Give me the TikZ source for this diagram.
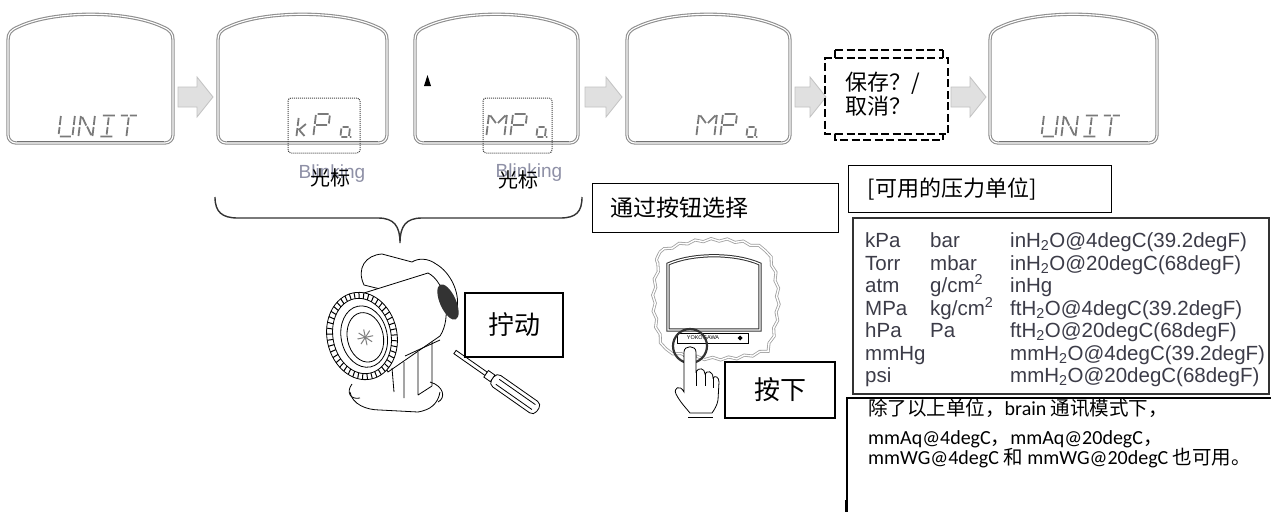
\documentclass[tikz,border=0pt]{standalone}
\usepackage{fontspec}
\setmainfont{Liberation Sans}
\newfontfamily\cjk{Noto Sans CJK SC}
\newfontfamily\carl{Carlito}
\usetikzlibrary{decorations.pathmorphing}

\definecolor{framegray}{HTML}{8E8E8E}
\definecolor{arrowfill}{HTML}{E0E0E0}
\definecolor{arrowline}{HTML}{C2C2C2}
\definecolor{segcol}{HTML}{7A7A7A}
\definecolor{tabtext}{HTML}{3C3C48}
\definecolor{blinkc}{HTML}{8E90A6}
\definecolor{inkgray}{HTML}{333333}

\newcommand\setfs[1]{\fontsize{#1}{#1}\selectfont}

\tikzset{
  lcdline/.style={draw=framegray, line width=1.1pt, double=white, double distance=1.1pt},
  seg/.style={draw=segcol, line width=1.8pt},
  blockarrow/.style={fill=arrowfill, draw=arrowline, line width=0.8pt},
  cursorbox/.style={draw=gray!55!black, densely dotted, line width=1pt, rounded corners=3pt},
  savebox/.style={draw=black, line width=2pt, dash pattern=on 8pt off 3.5pt},
  labelbox/.style={draw=black, line width=1.2pt},
  cjkl/.style={font=\cjk\fontsize{22}{24}\selectfont, inner sep=0pt},
  blink/.style={font=\setfs{19}, text=blinkc, inner sep=0pt},
  cursorlbl/.style={font=\cjk\setfs{20}, inner sep=0pt},
  bracestyle/.style={draw=inkgray, line width=1.4pt},
  tab/.style={font=\setfs{20.5}, text=tabtext, inner sep=0pt, anchor=base west},
  note/.style={font=\carl\setfs{20}, inner sep=0pt, anchor=base west},
  dev/.style={draw=black, line width=0.8pt},
}
% CJK runs inside the note
\newcommand\nc[1]{{\cjk\setfs{19.5}#1}}

% display frame between x=#1 and x=#2
\newcommand\lcdframe[2]{%
  \draw[lcdline] (#1,40) [rounded corners=8pt] -- (#1,143) -- (#2,143) -- (#2,70)
    [sharp corners] -- (#2,40)
    .. controls (#2,33) and (#2-3,30) .. (#2-10,27)
    .. controls (#2-45,10) and (#1+45,10) .. (#1+10,27)
    .. controls (#1+3,30) and (#1,33) .. (#1,40) -- cycle;
  \draw[draw=framegray!80!black, line width=1.6pt] (#1+9,141.6) -- (#2-9,141.6);}

% grey block arrow from x=#1 to x=#2
\newcommand\blockarrow[2]{%
  \draw[blockarrow] (#1,87) -- (#2-16,87) -- (#2-16,77) -- (#2,97)
    -- (#2-16,117) -- (#2-16,107) -- (#1,107) -- cycle;}

% segmented display letters, top-left corner at (#1,#2)
\newcommand\segU[2]{\draw[seg,shift={(#1,#2)},xslant=0.12]
  (0,1)--(0,10) (0,12)--(0,19) (1.5,21.5)--(12.5,21.5) (14,1)--(14,10) (14,12)--(14,20);}
\newcommand\segN[2]{\draw[seg,shift={(#1,#2)},xslant=0.12]
  (0,1)--(0,10) (0,12)--(0,21) (14,1)--(14,10) (14,12)--(14,21)
  (1.5,2)--(6.5,10.5) (7.5,11.5)--(12.5,20);}
\newcommand\segI[2]{\draw[seg,shift={(#1,#2)},xslant=0.12]
  (1,0.5)--(13,0.5) (7,2.5)--(7,10) (7,12)--(7,19.5) (1,21.5)--(13,21.5);}
\newcommand\segT[2]{\draw[seg,shift={(#1,#2)},xslant=0.12]
  (0,0.5)--(7,0.5) (9,0.5)--(16,0.5) (8,2.5)--(8,10) (8,12)--(8,21);}
\newcommand\segP[2]{\draw[seg,shift={(#1,#2)},xslant=0.12]
  (0,1)--(0,10) (0,12)--(0,21) (1.5,0)--(12.5,0) (14,1.5)--(14,9.5) (1.5,11)--(12.5,11);}
\newcommand\segM[2]{\draw[seg,shift={(#1,#2)},xslant=0.12]
  (0,1)--(0,10) (0,12)--(0,21) (18,1)--(18,10) (18,12)--(18,21)
  (1.5,1.5)--(8,9) (16.5,1.5)--(10,9);}
\newcommand\segK[2]{\draw[seg,shift={(#1,#2)},xslant=0.12]
  (0,3)--(0,11) (0,13)--(0,21) (1.5,15)--(8,9) (2.5,15.5)--(8,21);}
\newcommand\segA[2]{\draw[seg,shift={(#1,#2)},xslant=0.12]
  (2,12)--(8,12) (9.5,13.5)--(9.5,21) (1,13.5)--(1,20.5) (2,22)--(8,22) (10.5,22)--(12,22);}

\begin{document}
\begin{tikzpicture}[x=1pt,y=-1pt]
\useasboundingbox (0,0) rectangle (1271,515);
\fill[white] (0,0) rectangle (1271,515);

% ---------- display sequence ----------
\lcdframe{8}{173}
\lcdframe{218}{387}
\lcdframe{415}{578}
\lcdframe{627}{790}
\lcdframe{990}{1157}

\blockarrow{178}{213}
\blockarrow{585}{622}
\blockarrow{795}{826}
\blockarrow{951}{986}

% UNIT
\segU{61}{115}\segN{81}{115}\segI{102}{115}\segT{121}{115}
\segU{1044}{115}\segN{1064}{115}\segI{1085}{115}\segT{1104}{115}
% kPa
\segK{299}{115}\segP{316}{114}\segA{342}{115}
% MPa
\segM{489}{114}\segP{513}{114}\segA{538}{115}
\segM{699}{114}\segP{723}{114}\segA{748}{115}

% cursor marks
\draw[cursorbox] (288,98) rectangle (360,153);
\draw[cursorbox] (483,98) rectangle (552,153);
\fill[black] (424,86) -- (427.5,75) -- (431,86) -- cycle;

\node[blink] (bl1) at (332,174) {Blinking};
\node[cursorlbl] (cur1) at (330,178) {光标};
\node[blink] (bl2) at (529,173) {Blinking};
\node[cursorlbl] (cur2) at (518,180) {光标};

% save / cancel prompt
\draw[savebox] (835,50) -- (943,50);
\draw[savebox] (835,50) -- (835,58) -- (825,58) -- (825,134) -- (835,134) -- (835,140) -- (943,140) -- (943,134) -- (948,134) -- (948,58) -- (943,58) -- (943,50);
\draw[savebox] (835,58) -- (943,58);
\draw[savebox] (835,134) -- (943,134);
\node[cjkl, align=left, anchor=west] (savecancel) at (845,94) {保存？/\\取消？};

% ---------- brace ----------
\draw[bracestyle] (215,197) .. controls (215,212) and (222,218) .. (238,218) -- (378,218)
  .. controls (394,218) and (400,226) .. (400,243)
  .. controls (400,226) and (406,218) .. (422,218) -- (560,218)
  .. controls (576,218) and (582,212) .. (582,197);

% ---------- transmitter with screwdriver ----------
\draw[dev, fill=white] (364,285) .. controls (356,268) and (366,255) .. (382,254) -- (412,262)
  .. controls (418,258) and (428,258) .. (436,264) .. controls (450,272) and (460,292) .. (457,308) -- cycle;
\draw[dev, fill=white] (348,298) -- (428,273) .. controls (446,282) and (452,318) .. (440,336) -- (388,372) -- cycle;
\fill[inkgray, rotate around={24:(448,302)}] (448,302) ellipse [x radius=8, y radius=19];
\draw[dev] (392,368) -- (394,392) (404,362) -- (404,398) (418,352) -- (418,395)
  (432,342) -- (432,386) (418,395) -- (432,386) (405,356) -- (440,340);
\draw[dev] (350,392) .. controls (352,404) and (366,410) .. (380,410) -- (418,412)
  .. controls (430,410) and (438,404) .. (440,392);
\draw[dev] (352,384) .. controls (346,392) and (350,400) .. (360,398);
\draw[dev] (430,382) .. controls (444,386) and (446,398) .. (438,402);
\begin{scope}[shift={(362,336)}, rotate=12]
  \draw[dev, fill=white] (0,0) ellipse [x radius=35, y radius=44];
  \foreach \a in {0,8,...,352} \draw[line width=1pt] (\a:35 and 44) -- (\a:29 and 38);
  \draw[dev] (0,0) ellipse [x radius=29, y radius=38];
  \draw[dev] (2,1) ellipse [x radius=23, y radius=31];
  \draw[dev] (3,2) ellipse [x radius=18, y radius=25];
  \foreach \a in {0,45,90,135} \draw[gray, line width=1pt] (3,2) ++(\a:8) -- ++(\a+180:16);
\end{scope}
\begin{scope}[shift={(455,352)}, rotate=-35]
  \draw[dev, fill=white] (0,-2) rectangle (38,2);
  \draw[dev, fill=white] (38,-4) rectangle (46,4);
  \draw[dev, fill=white, rounded corners=5pt] (46,-7) rectangle (101,7);
  \draw[dev] (52,-3) -- (96,-3) (52,3) -- (96,3);
\end{scope}
\node[labelbox, minimum width=98, minimum height=64, font=\cjk\setfs{26}] (twist) at (514,325) {拧动};

% ---------- local display with push button ----------
\draw[draw=gray!75, line width=0.8pt, double=white, double distance=1.4pt,
  decorate, decoration={snake, amplitude=1.3pt, segment length=16pt}]
  (660,252) .. controls (690,238) and (735,238) .. (764,252)
  .. controls (778,280) and (778,322) .. (764,350)
  .. controls (735,362) and (690,362) .. (660,350)
  .. controls (646,322) and (646,280) .. (660,252) -- cycle;
\draw[draw=inkgray, line width=1pt, double=white, double distance=1.2pt]
  (668,264) -- (668,330) -- (760,330) -- (760,264) .. controls (735,253) and (693,253) .. (668,264) -- cycle;
\draw[line width=0.8pt] (677,333) rectangle (748,343);
\node[font=\setfs{5.5}, inner sep=0pt] (brand) at (703,338) {YOKOGAWA};
\fill (740,335.5) -- (742.5,338) -- (740,340.5) -- (737.5,338) -- cycle;
\draw[line width=2.2pt, inkgray] (690,346) circle (17);
\draw[dev] (684,357) .. controls (684,349) and (696,349) .. (696,357);
\draw[dev, fill=white] (684,392) -- (684,352) .. controls (684,345) and (696,345) .. (696,352) -- (696,372)
  .. controls (698,367) and (705,368) .. (705,374) .. controls (707,370) and (713,371) .. (713,378)
  .. controls (715,375) and (719,377) .. (719,382) -- (718,400)
  .. controls (717,406) and (714,410) .. (712,413) -- (690,413)
  .. controls (686,408) and (680,402) .. (676,394) .. controls (673,388) and (680,384) .. (684,392) -- cycle;
\draw[dev] (696,372) -- (696,386) (705,374) -- (705,386) (713,378) -- (713,388) (688,417) -- (713,417);
\node[labelbox, minimum width=110, minimum height=56, font=\cjk\setfs{26}] (press) at (780,390) {按下};
\node[labelbox, anchor=north west, minimum height=49, text width=210, inner xsep=18, align=left,
  font=\cjk\setfs{23}] (select) at (592,183) {通过按钮选择};

% ---------- available units ----------
\node[labelbox, anchor=north west, minimum height=47, text width=225, inner xsep=19, align=left,
  font=\cjk\setfs{22}] (unitshead) at (848,165) {[可用的压力单位]};
\draw[line width=1.3pt, draw=inkgray] (853,218) rectangle (1269,394);

\node[tab] (r1a) at (865,247.5) {kPa};
\node[tab] (r1b) at (930,247.5) {bar};
\node[tab] (r1c) at (1010,247.5) {inH\textsubscript{2}O@4degC(39.2degF)};
\node[tab] (r2a) at (865,270) {Torr};
\node[tab] (r2b) at (930,270) {mbar};
\node[tab] (r2c) at (1010,270) {inH\textsubscript{2}O@20degC(68degF)};
\node[tab] (r3a) at (865,292.5) {atm};
\node[tab] (r3b) at (930,292.5) {g/cm\textsuperscript{2}};
\node[tab] (r3c) at (1010,292.5) {inHg};
\node[tab] (r4a) at (865,315) {MPa};
\node[tab] (r4b) at (930,315) {kg/cm\textsuperscript{2}};
\node[tab] (r4c) at (1010,315) {ftH\textsubscript{2}O@4degC(39.2degF)};
\node[tab] (r5a) at (865,337.5) {hPa};
\node[tab] (r5b) at (930,337.5) {Pa};
\node[tab] (r5c) at (1010,337.5) {ftH\textsubscript{2}O@20degC(68degF)};
\node[tab] (r6a) at (865,360) {mmHg};
\node[tab] (r6c) at (1010,360) {mmH\textsubscript{2}O@4degC(39.2degF)};
\node[tab] (r7a) at (865,382.5) {psi};
\node[tab] (r7c) at (1010,382.5) {mmH\textsubscript{2}O@20degC(68degF)};

% note on extra units
\draw[line width=1.3pt] (847,512) -- (847,398) -- (1271,398);
\draw[line width=2.6pt] (846,500) -- (846,512);
\node[note] (n1) at (868,415) {\nc{除了以上单位，}brain \nc{通讯模式下，}};
\node[note] (n2) at (868,444) {mmAq@4degC\nc{，}mmAq@20degC\nc{，}};
\node[note] (n3) at (868,464) {mmWG@4degC \nc{和} mmWG@20degC \nc{也可用。}};
\end{tikzpicture}
\end{document}
